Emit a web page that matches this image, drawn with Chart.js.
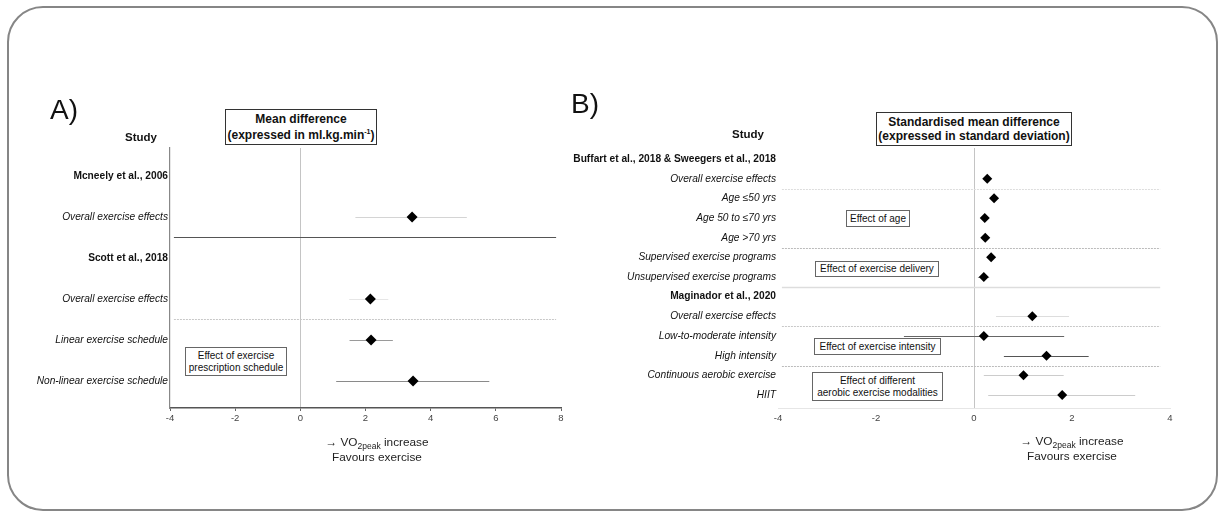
<!DOCTYPE html>
<html>
<head>
<meta charset="utf-8">
<script src="https://cdn.jsdelivr.net/npm/chart.js@4"></script>
<style>
  body { margin: 0; background: #fff; font-family: "Liberation Sans", Arial, sans-serif; color: #111; }
  #frame { position: absolute; left: 7px; top: 6px; width: 1207px; height: 501px; border: 2px solid #868686; border-radius: 36px; }
  .chartBox { position: absolute; top: 0; height: 513px; }
  #boxA { left: 0; width: 600px; }
  #boxB { left: 540px; width: 679px; }
  .txt { position: absolute; white-space: nowrap; }
  .panel { font-size: 28px; }
  .study { font-size: 11.5px; font-weight: bold; transform: translateX(-50%); }
  .titleBox { border: 1.5px solid #333; font-weight: bold; font-size: 12px; text-align: center;
    display: flex; flex-direction: column; justify-content: center; box-sizing: border-box; background: #fff; }
  .note { border: 1px solid #666; font-size: 10px; line-height: 12px; text-align: center; background: #fff;
    display: flex; flex-direction: column; justify-content: center; box-sizing: border-box; }
  .axisTitle { font-size: 11.8px; line-height: 15px; text-align: center; transform: translateX(-50%); color: #222; }
  sub { font-size: 8.5px; vertical-align: -3px; line-height: 0; }
  sup { font-size: 7px; vertical-align: 5px; line-height: 0; }
</style>
</head>
<body>
<div id="frame"></div>
<div class="chartBox" id="boxA"><canvas id="chartA"></canvas></div>
<div class="chartBox" id="boxB"><canvas id="chartB"></canvas></div>

<div class="txt panel" style="left:50px;top:94px;">A)</div>
<div class="txt panel" style="left:571px;top:88px;">B)</div>
<div class="txt study" style="left:141px;top:131px;">Study</div>
<div class="txt study" style="left:748px;top:128px;">Study</div>
<div class="txt titleBox" style="left:225px;top:109px;width:152px;height:36px;line-height:16px;">
  <div>Mean difference</div><div>(expressed in ml.kg.min<sup>-1</sup>)</div>
</div>
<div class="txt titleBox" style="left:876px;top:112px;width:196px;height:34px;line-height:14px;">
  <div>Standardised mean difference</div><div>(expressed in standard deviation)</div>
</div>
<div class="txt note" style="left:185px;top:347px;width:102px;height:29px;">
  <div>Effect of exercise</div><div>prescription schedule</div>
</div>
<div class="txt note" style="left:846px;top:210px;width:64px;height:17px;">Effect of age</div>
<div class="txt note" style="left:815px;top:261px;width:124px;height:16px;">Effect of exercise delivery</div>
<div class="txt note" style="left:814px;top:338px;width:127px;height:17px;">Effect of exercise intensity</div>
<div class="txt note" style="left:812px;top:372px;width:131px;height:29px;">
  <div>Effect of different</div><div>aerobic exercise modalities</div>
</div>
<div class="txt axisTitle" style="left:377px;top:435px;">&rarr; VO<sub>2peak</sub> increase<br>Favours exercise</div>
<div class="txt axisTitle" style="left:1072px;top:434px;">&rarr; VO<sub>2peak</sub> increase<br>Favours exercise</div>

<script>
// panel A: mean difference (ml.kg.min-1)
const studyRowsA = ["Mcneely et al., 2006", "Overall exercise effects", "Scott et al., 2018",
  "Overall exercise effects", "Linear exercise schedule", "Non-linear exercise schedule"];
const headerRowsA = [0, 2];
const estimateA = [null, 3.43, null, 2.15, 2.17, 3.46];
const lowerA = [null, 1.69, null, 1.5, 1.51, 1.1];
const upperA = [null, 5.11, null, 2.7, 2.84, 5.8];
const ticksA = [-4, -2, 0, 2, 4, 6, 8];

// panel B: standardised mean difference (SD)
const studyRowsB = ["Buffart et al., 2018 & Sweegers et al., 2018", "Overall exercise effects", "Age ≤50 yrs",
  "Age 50 to ≤70 yrs", "Age >70 yrs", "Supervised exercise programs", "Unsupervised exercise programs",
  "Maginador et al., 2020", "Overall exercise effects", "Low-to-moderate intensity", "High intensity",
  "Continuous aerobic exercise", "HIIT"];
const headerRowsB = [0, 7];
const estimateB = [null, 0.27, 0.41, 0.22, 0.23, 0.35, 0.20, null, 1.19, 0.20, 1.48, 1.01, 1.80];
const lowerB = [null, 0.22, 0.36, 0.17, 0.16, 0.28, 0.08, null, 0.45, -1.43, 0.61, 0.20, 0.29];
const upperB = [null, 0.32, 0.46, 0.27, 0.30, 0.42, 0.31, null, 1.94, 1.84, 2.34, 1.83, 3.29];
const ticksB = [-4, -2, 0, 2, 4];

const whiskerColorsA = [null, "#d4d4d4", null, "#e6e6e6", "#9a9a9a", "#8a8a8a"];
const whiskerColorsB = [null, "#ddd", "#ddd", "#ddd", "#ddd", "#ddd", "#999", null, "#ddd", "#666", "#555", "#ccc", "#ccc"];

const forestDecor = {
  id: "forestDecor",
  beforeDatasetsDraw(chart, args, opts) {
    const { ctx, scales: { x, y } } = chart;
    ctx.save();
    opts.separators.forEach((sep) => {
      ctx.beginPath();
      ctx.strokeStyle = sep.color;
      ctx.lineWidth = sep.width || 1;
      ctx.setLineDash(sep.dash || []);
      const py = Math.round(y.getPixelForValue(sep.at)) + 0.5;
      ctx.moveTo(x.getPixelForValue(sep.from), py);
      ctx.lineTo(x.getPixelForValue(sep.to), py);
      ctx.stroke();
    });
    ctx.setLineDash([]);
    opts.lower.forEach((lo, i) => {
      if (lo == null) return;
      ctx.beginPath();
      ctx.strokeStyle = opts.colors[i];
      ctx.lineWidth = 1;
      const py = Math.round(y.getPixelForValue(i)) + 0.5;
      ctx.moveTo(x.getPixelForValue(lo), py);
      ctx.lineTo(x.getPixelForValue(opts.upper[i]), py);
      ctx.stroke();
    });
    ctx.restore();
  }
};

function forestChart(canvasId, rows, headers, est, lo, hi, colors, xTicks, cfg) {
  const points = est.map((v, i) => (v == null ? null : { x: v, y: i })).filter(Boolean);
  return new Chart(document.getElementById(canvasId), {
    type: "scatter",
    data: { datasets: [{ data: points, pointStyle: "rectRot", pointRadius: cfg.radius,
      backgroundColor: "#000", borderColor: "#000", borderWidth: 0 }] },
    options: {
      responsive: true, maintainAspectRatio: false, animation: false,
      layout: { padding: cfg.padding },
      plugins: { legend: { display: false }, tooltip: { enabled: false },
        forestDecor: { lower: lo, upper: hi, colors, separators: cfg.separators } },
      scales: {
        x: { type: "linear", min: xTicks[0], max: xTicks[xTicks.length - 1],
          afterBuildTicks: (scale) => { scale.ticks = xTicks.map((v) => ({ value: v })); },
          afterFit: (scale) => { scale.height = 22; },
          grid: { color: (c) => (c.tick && c.tick.value === 0 ? "#c4c4c4" : "rgba(0,0,0,0)"),
            tickColor: cfg.tickColor, tickLength: 3, lineWidth: 1 },
          border: { display: true, color: cfg.xBorder, width: cfg.xBorderWidth },
          ticks: { color: "#444", font: { size: 9.5, family: "'Liberation Sans', Arial" }, padding: 2 } },
        y: { type: "linear", reverse: true, min: cfg.yMin, max: cfg.yMax,
          afterBuildTicks: (scale) => { scale.ticks = rows.map((_, i) => ({ value: i })); },
          afterFit: (scale) => { scale.width = cfg.labelWidth; },
          grid: { display: false, drawTicks: false },
          border: { display: cfg.yBorder != null, color: cfg.yBorder || "#000", width: 1.2 },
          ticks: { padding: 2, color: "#111", callback: (v) => rows[v],
            font: (c) => (headers.includes(c.index)
              ? { size: 10.2, weight: "bold", family: "'Liberation Sans', Arial" }
              : { size: 10.2, style: "italic", family: "'Liberation Sans', Arial" }) } }
      }
    },
    plugins: [forestDecor]
  });
}

forestChart("chartA", studyRowsA, headerRowsA, estimateA, lowerA, upperA, whiskerColorsA, ticksA, {
  radius: 5.5, padding: { left: 20, top: 148, right: 39, bottom: 83 }, labelWidth: 150,
  yMin: -0.683, yMax: 5.66, xBorder: "#555", xBorderWidth: 1.5, yBorder: "#888", tickColor: "#666",
  separators: [
    { at: 1.5, from: -3.88, to: 7.85, color: "#555", width: 1.2 },
    { at: 3.5, from: -3.88, to: 7.85, color: "#c8c8c8", dash: [2, 1] }
  ]
});

forestChart("chartB", studyRowsB, headerRowsB, estimateB, lowerB, upperB, whiskerColorsB, ticksB, {
  radius: 5, padding: { left: 18, top: 148, right: 49, bottom: 83 }, labelWidth: 220,
  yMin: -0.56, yMax: 12.66, xBorder: "#e6e6e6", xBorderWidth: 1, yBorder: null, tickColor: "rgba(0,0,0,0)",
  separators: [
    { at: 1.5, from: -3.92, to: 3.8, color: "#ddd", dash: [2, 1] },
    { at: 4.5, from: -3.92, to: 3.8, color: "#bbb", dash: [2, 1] },
    { at: 6.5, from: -3.92, to: 3.8, color: "#ddd", width: 1.5 },
    { at: 8.5, from: -3.92, to: 3.8, color: "#c8c8c8", dash: [2, 1] },
    { at: 10.5, from: -3.92, to: 3.8, color: "#bbb", dash: [2, 1] }
  ]
});
</script>
</body>
</html>
